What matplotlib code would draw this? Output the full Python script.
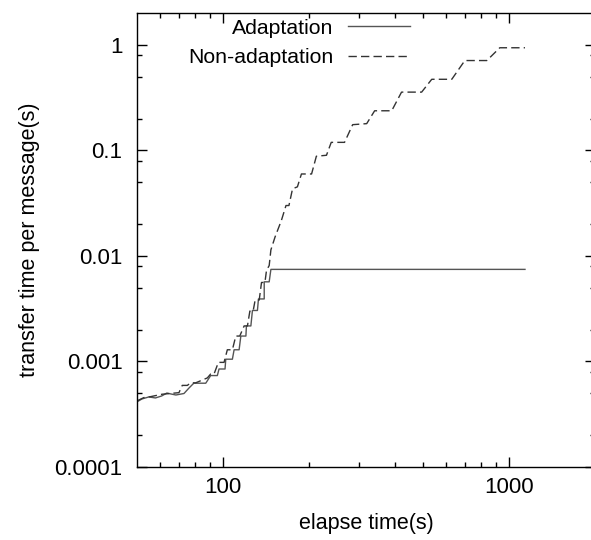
import numpy as np
import matplotlib
matplotlib.use("Agg")
import matplotlib.pyplot as plt
from matplotlib.ticker import FixedLocator, FixedFormatter, NullFormatter

plt.rcParams['font.family'] = ['Liberation Sans', 'DejaVu Sans']

# Adaptation (solid)
adapt_t = [50, 52, 55, 58, 61, 63.6, 65.7, 68.4, 73, 76, 79, 87, 90.5, 95.5, 96.8, 101.6,
           102.2, 107.8, 109.3, 113.8, 115.4, 120.2, 120.7, 125.1, 126.7, 131.9, 133, 139.3,
           139.3, 145, 147, 1138]
adapt_v = [0.000414, 0.000441, 0.000461, 0.000451, 0.000471, 0.000502, 0.000492, 0.000481,
           0.000497, 0.00056, 0.000622, 0.000622, 0.000735, 0.000735, 0.000848, 0.000848,
           0.00105, 0.00105, 0.00129, 0.00129, 0.00174, 0.00174, 0.00217, 0.00217,
           0.00304, 0.00304, 0.00391, 0.00391, 0.00568, 0.00568, 0.00745, 0.00745]

# Non-adaptation (dashed)
nonadapt_t = [50, 52.8, 55.8, 61.2, 70.1, 72, 75, 77, 80.2, 88.1, 90.5, 93, 96.3, 100.8,
              103.5, 107.8, 110.8, 114.4, 118.5, 121.7, 124.1, 127.4, 129.5, 133.8, 136.3,
              140.1, 141.9, 145, 147, 152, 160, 166, 170, 175, 182, 188, 204, 212, 230,
              239, 266, 284, 318, 339, 389, 421, 495, 537, 631, 701, 837, 929, 1138]
nonadapt_v = [0.000423, 0.000454, 0.000464, 0.000489, 0.000506, 0.000593, 0.000593, 0.000627,
              0.000627, 0.000698, 0.00076, 0.00076, 0.00098, 0.00098, 0.00129, 0.00129,
              0.00174, 0.00174, 0.00217, 0.00217, 0.003, 0.003, 0.00382, 0.00382, 0.0056,
              0.0056, 0.0073, 0.0081, 0.0114, 0.0151, 0.0217, 0.030, 0.030, 0.0432, 0.0451,
              0.0597, 0.0597, 0.0879, 0.0898, 0.119, 0.119, 0.175, 0.179, 0.237, 0.237,
              0.356, 0.356, 0.471, 0.471, 0.709, 0.709, 0.937, 0.937]

xticks = [100, 1000]
yticks = [0.0001, 0.001, 0.01, 0.1, 1]
ytick_labels = ['0.0001', '0.001', '0.01', '0.1', '1']

fs = 16

fig = plt.figure(figsize=(5.91, 5.4), dpi=100)
ax = fig.add_axes([137 / 591, 1 - 467 / 540, (595 - 137) / 591, (467 - 13) / 540])

ax.plot(adapt_t, adapt_v, color='#555555', lw=1.0, label='Adaptation')
ax.plot(nonadapt_t, nonadapt_v, color='#333333', lw=1.0, ls=(0, (6, 3)), label='Non-adaptation')

ax.set_xscale('log')
ax.set_yscale('log')
ax.set_xlim(50, 2000)
ax.set_ylim(0.0001, 2)

ax.xaxis.set_major_locator(FixedLocator(xticks))
ax.xaxis.set_major_formatter(FixedFormatter([str(t) for t in xticks]))
ax.xaxis.set_minor_locator(FixedLocator([60, 70, 80, 90, 200, 300, 400, 500, 600, 700, 800, 900]))
ax.xaxis.set_minor_formatter(NullFormatter())
ax.yaxis.set_major_locator(FixedLocator(yticks))
ax.yaxis.set_major_formatter(FixedFormatter(ytick_labels))
yminor = [m * d for d in [0.0001, 0.001, 0.01, 0.1, 1] for m in (2, 5, 8) if m * d < 2]
ax.yaxis.set_minor_locator(FixedLocator(yminor))
ax.yaxis.set_minor_formatter(NullFormatter())

ax.tick_params(which='both', direction='in', top=True, right=True, labelsize=fs, width=1)
ax.tick_params(which='major', length=7)
ax.tick_params(which='minor', length=3.5)
ax.tick_params(axis='y', pad=10.5)
ax.tick_params(axis='x', pad=7)
for s in ax.spines.values():
    s.set_linewidth(1.0)

ax.set_xlabel('elapse time(s)', fontsize=15.5, labelpad=11)
ax.set_ylabel('transfer time per message(s)', fontsize=15.5, labelpad=10.5)

ax.legend(loc='upper right', bbox_to_anchor=(410 / 591, 1 - 18.5 / 540), bbox_transform=fig.transFigure,
          markerfirst=False, frameon=False, fontsize=15.3, handlelength=2.9, handletextpad=0.7,
          borderpad=0, borderaxespad=0, labelspacing=0.5)

plt.savefig('out.png', dpi=100)
